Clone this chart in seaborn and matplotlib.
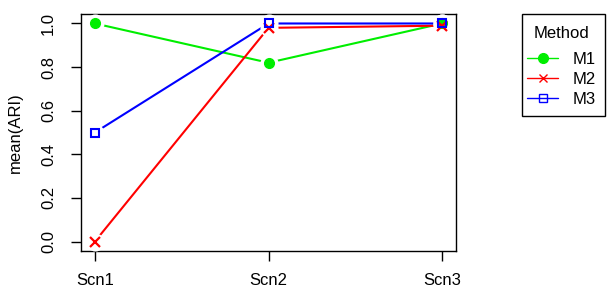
import matplotlib
matplotlib.use("Agg")
import matplotlib.pyplot as plt
import seaborn as sns
import pandas as pd
from matplotlib.lines import Line2D
from matplotlib.patches import Rectangle

scenarios = ["Scn1", "Scn2", "Scn3"]
m1 = [1.00, 0.82, 1.00]
m2 = [0.00, 0.98, 0.99]
m3 = [0.50, 1.00, 1.00]
methods = ["M1", "M2", "M3"]
yticks = [0.0, 0.2, 0.4, 0.6, 0.8, 1.0]

sns.set_theme(style="white")
plt.rcParams["font.family"] = ["Liberation Sans", "DejaVu Sans"]
plt.rcParams["text.color"] = "black"
plt.rcParams["axes.labelcolor"] = "black"
plt.rcParams["xtick.color"] = "black"
plt.rcParams["ytick.color"] = "black"

df = pd.DataFrame({
    "x": [1, 2, 3] * 3,
    "y": m1 + m2 + m3,
    "Method": sum([[m] * 3 for m in methods], []),
})

colors = {"M1": "#00ee00", "M2": "#ff0000", "M3": "#0000ff"}
FS = 12
W, H = 614, 297

fig = plt.figure(figsize=(6.14, 2.97), dpi=100)
ax = fig.add_axes([81 / W, 1 - 251 / H, (456 - 81) / W, (251 - 14) / H])

sns.lineplot(data=df, x="x", y="y", hue="Method", palette=colors, ax=ax,
             legend=False, linewidth=1.5)
for ln in ax.lines:
    ln.set_zorder(2)
# white halo for the gaps around points (R type="b")
ax.scatter(df["x"], df["y"], color="white", s=170, linewidths=0, zorder=3)
for m in methods:
    sub = df[df["Method"] == m]
    if m == "M1":
        ax.plot(sub["x"], sub["y"], linestyle="none", marker="o", ms=7,
                color=colors[m], zorder=4)
    elif m == "M2":
        ax.plot(sub["x"], sub["y"], linestyle="none", marker="x", ms=6.5,
                mew=1.6, color=colors[m], zorder=4)
    else:
        ax.plot(sub["x"], sub["y"], linestyle="none", marker="s", ms=6,
                mew=1.5, mfc="none", color=colors[m], zorder=4)

ax.set_xlim(0.92, 3.08)
ax.set_ylim(-0.0435, 1.0435)
ax.set_xticks([1, 2, 3])
ax.set_xticklabels(scenarios)
ax.set_yticks(yticks)
ax.set_yticklabels([f"{v:.1f}" for v in yticks], rotation=90, va="center")
ax.set_xlabel("")
ax.set_ylabel("mean(ARI)", fontsize=FS, labelpad=13)
ax.tick_params(axis="both", which="both", direction="out", length=7, width=1,
               color="black", labelsize=FS, labelcolor="black",
               bottom=True, left=True)
ax.tick_params(axis="x", pad=9)
ax.tick_params(axis="y", pad=11)
for s in ax.spines.values():
    s.set_visible(True)
    s.set_color("black")
    s.set_linewidth(1)

handles = [
    Line2D([], [], color=colors["M1"], marker="o", ms=7, lw=1),
    Line2D([], [], color=colors["M2"], marker="x", ms=6, mew=1, lw=1),
    Line2D([], [], color=colors["M3"], marker="s", ms=5.5, mfc="none", mew=1, lw=1),
]
leg = fig.legend(handles, methods, title="Method", loc="upper left",
                 bbox_to_anchor=(522 / W, 1 - 21 / H), frameon=False,
                 fontsize=FS, title_fontsize=FS,
                 handlelength=1.86, borderpad=0.3, labelspacing=0.3,
                 handletextpad=0.9, borderaxespad=0)
leg._legend_box.sep = 8
fig.add_artist(Rectangle((522 / W, 1 - 116 / H), (605 - 522) / W, (116 - 14) / H,
                         transform=fig.transFigure, fill=False,
                         edgecolor="black", linewidth=1))

fig.savefig("out.png", dpi=100)
